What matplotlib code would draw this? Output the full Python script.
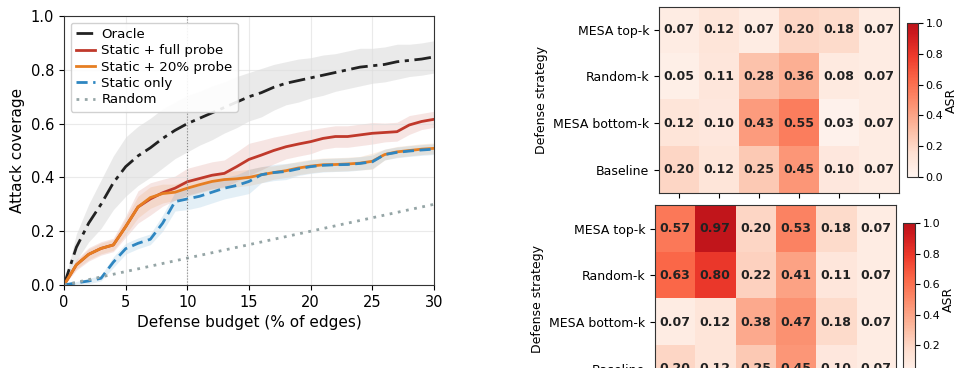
import numpy as np
import matplotlib
matplotlib.use('Agg')
import matplotlib.pyplot as plt
from matplotlib.colors import ListedColormap

# ---- data: attack coverage vs defense budget ----
budget = list(range(31))
oracle = [0, 0.14, 0.23, 0.30, 0.38, 0.44, 0.48, 0.51, 0.545, 0.575, 0.60,
          0.62, 0.64, 0.66, 0.68, 0.70, 0.715, 0.735, 0.75, 0.76, 0.77,
          0.78, 0.79, 0.80, 0.81, 0.815, 0.82, 0.83, 0.835, 0.84, 0.848]
oracle_std = [0, 0.05, 0.07, 0.09, 0.10, 0.11, 0.11, 0.11, 0.11, 0.105, 0.105,
              0.10, 0.10, 0.095, 0.095, 0.09, 0.09, 0.085, 0.08, 0.08, 0.075,
              0.075, 0.07, 0.07, 0.07, 0.065, 0.065, 0.065, 0.06, 0.06, 0.06]
full_probe = [0, 0.075, 0.114, 0.136, 0.149, 0.217, 0.29, 0.32, 0.343, 0.36, 0.384,
              0.396, 0.408, 0.415, 0.44, 0.467, 0.483, 0.50, 0.514, 0.524, 0.533,
              0.545, 0.552, 0.552, 0.558, 0.564, 0.567, 0.57, 0.595, 0.608, 0.616]
full_std = [0, 0.02, 0.025, 0.025, 0.025, 0.04, 0.06, 0.06, 0.05, 0.045, 0.05,
            0.05, 0.05, 0.05, 0.055, 0.06, 0.055, 0.05, 0.045, 0.045, 0.045,
            0.04, 0.04, 0.04, 0.04, 0.04, 0.035, 0.035, 0.035, 0.03, 0.03]
probe20 = [0, 0.075, 0.114, 0.136, 0.149, 0.217, 0.29, 0.325, 0.34, 0.345, 0.36,
           0.373, 0.385, 0.392, 0.395, 0.40, 0.41, 0.418, 0.425, 0.435, 0.442,
           0.447, 0.448, 0.45, 0.453, 0.46, 0.485, 0.495, 0.50, 0.505, 0.508]
probe20_std = [0, 0.015, 0.02, 0.02, 0.02, 0.03, 0.04, 0.04, 0.035, 0.03, 0.03,
               0.03, 0.03, 0.03, 0.03, 0.03, 0.03, 0.025, 0.025, 0.025, 0.025,
               0.025, 0.025, 0.025, 0.025, 0.03, 0.02, 0.02, 0.02, 0.02, 0.02]
static_only = [0, 0.008, 0.015, 0.025, 0.085, 0.135, 0.155, 0.17, 0.23, 0.31, 0.32,
               0.33, 0.345, 0.36, 0.37, 0.385, 0.41, 0.418, 0.422, 0.432, 0.44,
               0.445, 0.447, 0.448, 0.452, 0.458, 0.485, 0.493, 0.498, 0.502, 0.505]
static_std = [0, 0.005, 0.01, 0.01, 0.02, 0.02, 0.02, 0.02, 0.03, 0.035, 0.04,
              0.04, 0.04, 0.04, 0.04, 0.045, 0.03, 0.03, 0.03, 0.025, 0.025,
              0.025, 0.025, 0.025, 0.025, 0.025, 0.02, 0.02, 0.02, 0.02, 0.02]
random_cov = [0, 0.01, 0.02, 0.03, 0.04, 0.05, 0.06, 0.07, 0.08, 0.09, 0.10,
              0.11, 0.12, 0.13, 0.14, 0.15, 0.16, 0.17, 0.18, 0.19, 0.20,
              0.21, 0.22, 0.23, 0.24, 0.25, 0.26, 0.27, 0.28, 0.29, 0.30]

# ---- data: ASR heatmaps ----
strategies = ['MESA top-k', 'Random-k', 'MESA bottom-k', 'Baseline']
asr_top = [[0.07, 0.12, 0.07, 0.20, 0.18, 0.07],
           [0.05, 0.11, 0.28, 0.36, 0.08, 0.07],
           [0.12, 0.10, 0.43, 0.55, 0.03, 0.07],
           [0.20, 0.12, 0.25, 0.45, 0.10, 0.07]]
asr_bottom = [[0.57, 0.97, 0.20, 0.53, 0.18, 0.07],
              [0.63, 0.80, 0.22, 0.41, 0.11, 0.07],
              [0.07, 0.12, 0.38, 0.47, 0.18, 0.07],
              [0.20, 0.12, 0.25, 0.45, 0.10, 0.07]]

fig = plt.figure(figsize=(9.61, 3.68), dpi=100)

# ---- left: coverage curves ----
ax = fig.add_axes([0.0666, 0.2255, 0.385, 0.731])
x = np.array(budget)
series = [
    (oracle, oracle_std, '#222222', (0, (6, 2, 1.5, 2)), 'Oracle', '#999999'),
    (full_probe, full_std, '#c0392b', '-', 'Static + full probe', '#c0392b'),
    (probe20, probe20_std, '#e67e22', '-', 'Static + 20% probe', '#e67e22'),
    (static_only, static_std, '#2e86c1', (0, (4, 2)), 'Static only', '#2e86c1'),
]
for y, s, c, ls, lab, bc in series:
    y = np.array(y)
    s = np.array(s)
    ax.fill_between(x, y - s, y + s, color=bc, alpha=0.13 if bc != '#999999' else 0.2, lw=0)
for y, s, c, ls, lab, bc in series:
    ax.plot(x, y, color=c, ls=ls, lw=2, label=lab)
ax.plot(x, random_cov, color='#95a5a6', ls=(0, (1, 2)), lw=2, label='Random')

ax.axvline(10, color='#888888', ls=':', lw=0.8)
ax.set_xlim(0, 30)
ax.set_ylim(0, 1)
ax.set_xticks([0, 5, 10, 15, 20, 25, 30])
ax.set_yticks([0, 0.2, 0.4, 0.6, 0.8, 1.0])
ax.grid(True, color='#dddddd', alpha=0.6, lw=0.8)
ax.tick_params(labelsize=10.5)
ax.set_xlabel('Defense budget (% of edges)', fontsize=11)
ax.set_ylabel('Attack coverage', fontsize=11)
for sp in ax.spines.values():
    sp.set_color('#333333')
ax.legend(loc='upper left', fontsize=9.6, framealpha=0.9, handlelength=1.4,
          borderpad=0.4, labelspacing=0.25, handletextpad=0.5)

# ---- right: heatmaps ----
cmap = ListedColormap(plt.cm.Reds(np.linspace(0, 0.8, 256)))


def heatmap(rect, crect, data):
    hax = fig.add_axes(rect)
    arr = np.array(data)
    im = hax.imshow(arr, cmap=cmap, vmin=0, vmax=1, aspect='auto')
    for i in range(arr.shape[0]):
        for j in range(arr.shape[1]):
            hax.text(j, i, f'{arr[i, j]:.2f}', ha='center', va='center',
                     fontsize=9, fontweight='bold', color='#222222')
    hax.set_yticks(range(len(strategies)))
    hax.set_yticklabels(strategies, fontsize=9)
    hax.set_xticks(range(arr.shape[1]))
    hax.set_xticklabels([])
    hax.set_ylabel('Defense strategy', fontsize=9)
    for sp in hax.spines.values():
        sp.set_color('#333333')
    cax = fig.add_axes(crect)
    cb = fig.colorbar(im, cax=cax)
    cb.set_ticks([0, 0.2, 0.4, 0.6, 0.8, 1.0])
    cb.ax.tick_params(labelsize=8, pad=2)
    cb.set_label('ASR', fontsize=9, labelpad=1)
    cb.outline.set_edgecolor('#333333')
    return hax


heatmap([0.6857, 0.4755, 0.2497, 0.5068], [0.9438, 0.519, 0.0115, 0.4185], asr_top)
heatmap([0.6816, -0.0652, 0.2508, 0.5068], [0.9397, -0.0217, 0.0125, 0.4158], asr_bottom)

fig.savefig('out.png', dpi=100)
